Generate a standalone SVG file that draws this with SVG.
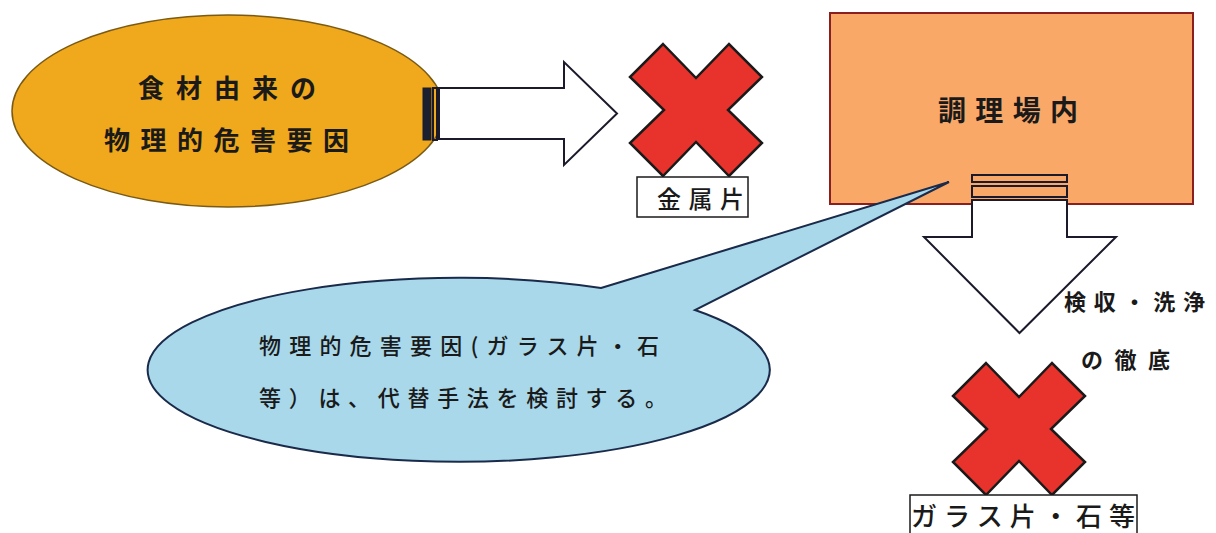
<svg xmlns="http://www.w3.org/2000/svg" width="1216" height="533" viewBox="0 0 1216 533">
<defs>
<style>
.t{font-family:"Noto Sans CJK JP","Noto Sans CJK SC",sans-serif;fill:#1a1a1a}
.b{font-weight:bold}
.m{font-weight:500}
.ar{fill:#fff;stroke:#1a1a2a;stroke-width:2;stroke-linejoin:miter}
.st{fill:none;stroke:#1a1a2a;stroke-width:2}
.x{fill:#e8322c;stroke:#1a1a1a;stroke-width:2.5;stroke-linejoin:miter}
.lb{fill:#fff;stroke:#1a1a1a;stroke-width:1.5}
</style>
<path id="cross" d="M-33,-66 L0,-32 L33,-66 L66,-33 L32,0 L66,33 L33,66 L0,32 L-33,66 L-66,33 L-32,0 L-66,-33 Z"/>
</defs>
<rect width="1216" height="533" fill="#fff"/>

<g id="food-source">
<ellipse cx="228" cy="111" rx="216" ry="96" fill="#f0a81c" stroke="#7a5a14" stroke-width="1.5"/>
<text class="t b" x="138" y="98" font-size="26" textLength="178" lengthAdjust="spacing">食材由来の</text>
<text class="t b" x="104" y="150" font-size="26" textLength="245" lengthAdjust="spacing">物理的危害要因</text>
</g>

<g id="kitchen">
<rect x="830" y="13" width="363" height="191" fill="#f9a868" stroke="#8b1e1e" stroke-width="2"/>
<text class="t b" x="938" y="121" font-size="28" textLength="140" lengthAdjust="spacing">調理場内</text>
</g>

<g id="connectors">
<rect x="423" y="88" width="8" height="52" fill="#1a2030" stroke="#1a1a2a" stroke-width="1"/>
<rect x="433" y="88" width="4" height="52" class="st"/>
<path class="ar" d="M439,88 H564 V62 L617,113.5 L564,165 V139 H439 Z"/>
<rect x="972" y="175" width="95" height="7" class="st"/>
<rect x="972" y="186" width="95" height="11" class="st"/>
<path class="ar" d="M972,200 H1067 V237 H1116 L1019.5,333 L924,237 H972 Z"/>
</g>

<g id="metal">
<use href="#cross" x="696" y="110" class="x"/>
<rect x="637" y="177" width="111" height="40" class="lb"/>
<text class="t m" x="657" y="208" font-size="24" textLength="87" lengthAdjust="spacing">金属片</text>
</g>

<g id="glass">
<use href="#cross" x="1019" y="429" class="x"/>
<rect x="910" y="495" width="227" height="45" class="lb"/>
<text class="t m" x="911" y="526" font-size="26" textLength="224" lengthAdjust="spacing">ガラス片・石等</text>
</g>

<g id="inspection">
<text class="t b" x="1064" y="310" font-size="22" textLength="141" lengthAdjust="spacing">検収・洗浄</text>
<text class="t b" x="1081" y="368" font-size="22" textLength="89" lengthAdjust="spacing">の徹底</text>
</g>

<g id="bubble">
<path d="M601,288 L949,182 L695,310 A311,92 0 1,1 601,288 Z" fill="#a8d8ea" stroke="#1a2a4a" stroke-width="2" stroke-linejoin="miter"/>
<text class="t m" x="259" y="354" font-size="22" textLength="400" lengthAdjust="spacing">物理的危害要因(ガラス片・石</text>
<text class="t m" x="259" y="406" font-size="22" textLength="408" lengthAdjust="spacing">等）は、代替手法を検討する。</text>
</g>
</svg>
